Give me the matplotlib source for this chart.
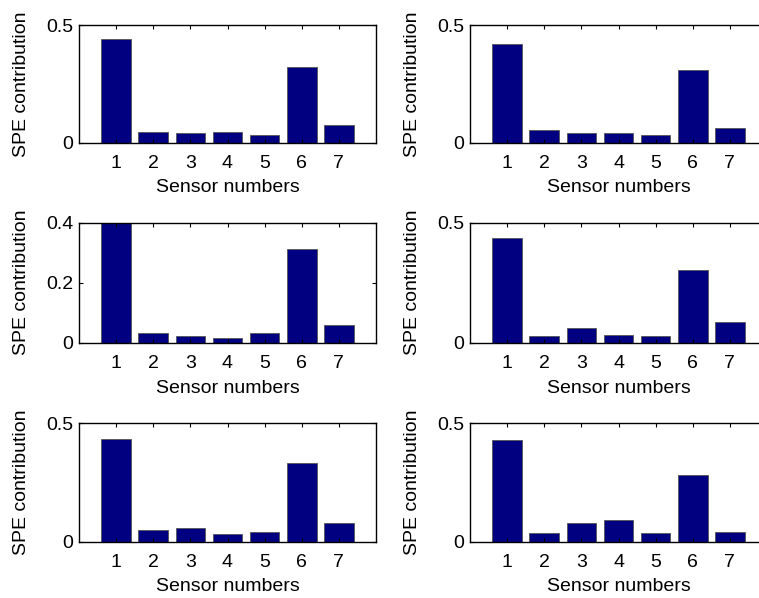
import matplotlib
matplotlib.use("Agg")
import matplotlib.pyplot as plt

sensors = [1, 2, 3, 4, 5, 6, 7]
panel1 = [0.439, 0.047, 0.041, 0.047, 0.033, 0.323, 0.075]
panel2 = [0.418, 0.054, 0.041, 0.041, 0.034, 0.308, 0.062]
panel3 = [0.400, 0.032, 0.022, 0.017, 0.032, 0.312, 0.059]
panel4 = [0.436, 0.028, 0.061, 0.033, 0.028, 0.304, 0.086]
panel5 = [0.432, 0.049, 0.058, 0.030, 0.042, 0.332, 0.077]
panel6 = [0.430, 0.034, 0.080, 0.089, 0.034, 0.282, 0.041]
panels = [panel1, panel2, panel3, panel4, panel5, panel6]
ymax = [0.5, 0.5, 0.4, 0.5, 0.5, 0.5]
yticks = [[0, 0.5], [0, 0.5], [0, 0.2, 0.4], [0, 0.5], [0, 0.5], [0, 0.5]]
yticklabels = [["0", "0.5"], ["0", "0.5"], ["0", "0.2", "0.4"], ["0", "0.5"], ["0", "0.5"], ["0", "0.5"]]
xlabel = "Sensor numbers"
ylabel = "SPE contribution"

plt.rcParams['font.family'] = ['Liberation Sans', 'DejaVu Sans']

W, H = 759, 598
fig = plt.figure(figsize=(W / 100, H / 100), dpi=100)

lefts = [79, 470]
width = 297
rows = [(25, 142.7), (222.7, 342.7), (423, 541.5)]
fs = 14

for i, vals in enumerate(panels):
    r, c = divmod(i, 2)
    top, bot = rows[r]
    left = lefts[c]
    ax = fig.add_axes([left / W, 1 - bot / H, width / W, (bot - top) / H])
    ax.bar(sensors, vals, width=0.8, color='#000080', edgecolor='#555555', linewidth=0.6)
    ax.set_xlim(0, 8)
    ax.set_ylim(0, ymax[i])
    ax.set_xticks(sensors)
    ax.set_xticklabels([str(s) for s in sensors])
    ax.set_yticks(yticks[i])
    ax.set_yticklabels(yticklabels[i])
    ax.tick_params(direction='in', top=True, right=(c == 0), length=3, width=0.8,
                   labelsize=fs, colors='black')
    ax.tick_params(axis='x', pad=9)
    ax.tick_params(axis='y', pad=4)
    for sp in ax.spines.values():
        sp.set_linewidth(1.0)
        sp.set_color('black')
    if c == 1:
        ax.spines['right'].set_visible(False)
    ax.set_xlabel(xlabel, fontsize=fs)
    ax.set_ylabel(ylabel, fontsize=fs)
    ax.xaxis.set_label_coords(0.5, -0.31)
    ax.yaxis.set_label_coords(-0.165, 0.5)

fig.savefig("out.png", dpi=100)
